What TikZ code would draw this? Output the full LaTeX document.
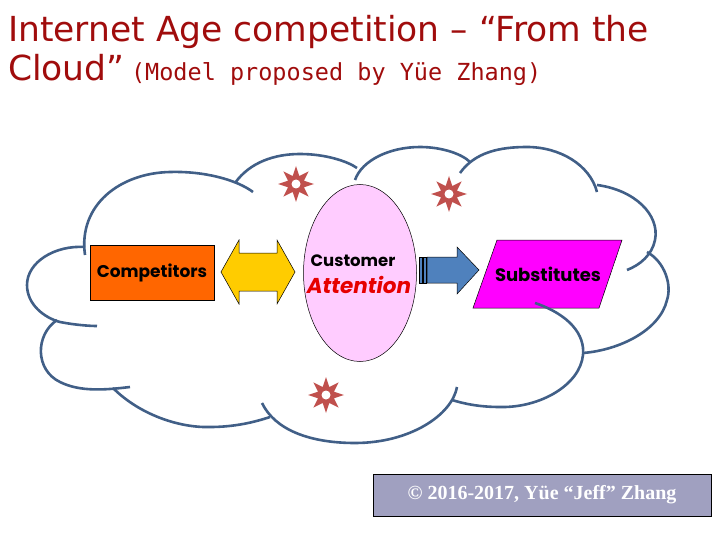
\documentclass[tikz,border=0pt]{standalone}
\usepackage{fontspec}
\setmainfont{Liberation Serif}
\newfontfamily\titlefont{DejaVu Sans}
\newfontfamily\subtitlefont{DejaVu Sans Mono}
\newfontfamily\boxfont{Poppins}
\usetikzlibrary{shapes.geometric,calc}
\definecolor{TitleRed}    {RGB}{160, 12, 12}
\definecolor{CloudBlue}   {RGB}{ 65, 95,135}
\definecolor{CompOrange}  {RGB}{255,102,  0}
\definecolor{ArrowGold}   {RGB}{255,204,  0}
\definecolor{AttnPink}    {RGB}{255,204,255}
\definecolor{ArrowBlue}   {RGB}{ 79,129,189}
\definecolor{SubstMagenta}{RGB}{255,  0,255}
\definecolor{StarRed}     {RGB}{192, 80, 77}
\definecolor{CopyGray}    {RGB}{160,160,192}

\begin{document}
\begin{tikzpicture}[x=1pt,y=-1pt,
      titletext/.style={anchor=base west,inner sep=0pt,text=TitleRed,font=\titlefont\fontsize{34.5}{40}\selectfont},
      subtext/.style={anchor=base west,inner sep=0pt,text=TitleRed,font=\subtitlefont\fontsize{23.5}{28}\selectfont},
      cloudline/.style={draw=CloudBlue,line width=2.6pt},
      blockarrow/.style={draw=black,line width=0.5pt,line join=miter},
      spark/.style={star,star points=8,star point ratio=2.1,minimum size=36pt,inner sep=0pt,fill=StarRed},
      boxtext/.style={font=\boxfont\bfseries\fontsize{17}{20}\selectfont,text=black}]
    \useasboundingbox (0,0) rectangle (720,540);
    % title
    \node[titletext] (title1) at (8,42) {Internet Age competition – “From the};
    \node[titletext] (title2) at (8,81) {Cloud”};
    \node[subtext,xshift=6pt] (sub) at (title2.base east) {(Model proposed by Yüe Zhang)};
    % sparks
    \node[spark] (s1) at (296,184) {};
    \node[spark] (s2) at (449,194) {};
    \node[spark] (s3) at (326,395) {};
    \foreach \s in {s1,s2,s3}
      \fill[white] (\s) circle (4.5pt);
    % boxes
    \node[rectangle,draw=black,fill=CompOrange,minimum width=124pt,minimum height=55pt,
          boxtext] (comp) at (152,273) {Competitors};
    \node[ellipse,draw=black,line width=0.5pt,fill=AttnPink,minimum width=113pt,
          minimum height=177pt] (attn) at (360,273) {};
    \node[boxtext,anchor=base,font=\boxfont\bfseries\fontsize{16.5}{19}\selectfont] (cust) at (353,266) {Customer};
    \node[anchor=base,text={rgb,255:red,230;green,0;blue,0},
          font=\boxfont\bfseries\itshape\fontsize{21.5}{25}\selectfont] (atxt) at (359,293) {Attention};
    \fill[SubstMagenta,draw=black,line width=0.5pt] (497,240) -- (622,240) -- (599,308) -- (473,308) -- cycle;
    \node[boxtext,font=\boxfont\bfseries\fontsize{18}{21}\selectfont] (subst) at (548,274) {Substitutes};
    % block arrows
    \filldraw[blockarrow,fill=ArrowGold] (221,272) -- (239,240) -- (239,253) -- (277,253) -- (277,240)
      -- (295,272) -- (277,304) -- (277,291) -- (239,291) -- (239,304) -- cycle;
    \filldraw[blockarrow,fill=ArrowBlue] (419,257) rectangle (422,283);
    \filldraw[blockarrow,fill=ArrowBlue] (423.5,257) rectangle (426,283);
    \filldraw[blockarrow,fill=ArrowBlue] (427,257) -- (457,257) -- (457,247) -- (479,270)
      -- (457,294) -- (457,283) -- (427,283) -- cycle;
    % cloud
    \draw[cloudline] (85,255) .. controls (78,205) and (120,173) .. (170,172)
      .. controls (205,171) and (237,180) .. (253,192);
    \draw[cloudline] (235,183) .. controls (250,162) and (275,154) .. (300,154)
      .. controls (325,154) and (347,161) .. (357,168);
    \draw[cloudline] (355,180) .. controls (362,160) and (390,147) .. (420,147)
      .. controls (442,147) and (462,154) .. (470,162);
    \draw[cloudline] (460,173) .. controls (475,152) and (500,147) .. (527,147)
      .. controls (560,147) and (590,165) .. (597,192);
    \draw[cloudline] (597,185) .. controls (635,190) and (660,215) .. (655,240)
      .. controls (652,255) and (640,265) .. (627,270);
    \draw[cloudline] (647,252) .. controls (665,262) and (672,285) .. (667,300)
      .. controls (660,330) and (620,350) .. (583,353);
    \draw[cloudline] (535,303) .. controls (570,315) and (585,335) .. (583,355)
      .. controls (580,385) and (540,408) .. (500,407)
      .. controls (480,407) and (465,404) .. (452,400);
    \draw[cloudline] (457,387) .. controls (452,415) and (410,443) .. (355,443)
      .. controls (310,443) and (275,430) .. (262,403);
    \draw[cloudline] (113,388) .. controls (140,415) and (180,428) .. (210,427)
      .. controls (235,427) and (255,422) .. (270,417);
    \draw[cloudline] (57,320) .. controls (35,335) and (35,370) .. (60,382)
      .. controls (80,392) and (105,390) .. (130,387);
    \draw[cloudline] (85,247) .. controls (55,245) and (27,262) .. (27,285)
      .. controls (27,305) and (45,318) .. (60,322)
      .. controls (75,325) and (90,326) .. (97,326);
    % copyright
    \node[rectangle,draw=black,line width=0.8pt,fill=CopyGray,minimum width=338pt,minimum height=42pt,
          text=white,font=\bfseries\fontsize{20}{24}\selectfont] (copy) at (542,495)
          {© 2016-2017, Yüe “Jeff” Zhang};
\end{tikzpicture}
\end{document}
